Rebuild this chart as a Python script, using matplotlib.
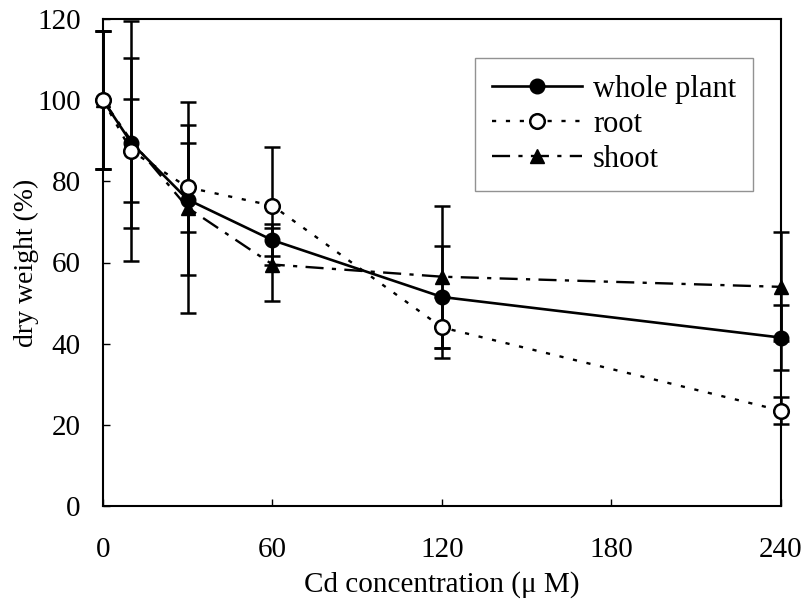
import matplotlib
matplotlib.use("Agg")
import matplotlib.pyplot as plt

plt.rcParams['font.family'] = ['Liberation Serif', 'DejaVu Serif']
plt.rcParams['lines.scale_dashes'] = False

# data
conc = [0, 10, 30, 60, 120, 240]
whole = [100, 89.5, 75.5, 65.5, 51.5, 41.5]
whole_err = [17, 21, 18.5, 4, 12.5, 8]
root = [100, 87.5, 78.5, 74, 44, 23.5]
root_err = [17, 12.7, 11, 14.5, 7.5, 3.3]
shoot = [100, 90, 73.5, 59.5, 56.5, 54]
shoot_err = [17, 29.6, 26, 9, 17.5, 13.4]

xticks = [0, 60, 120, 180, 240]
yticks = [0, 20, 40, 60, 80, 100, 120]

fig = plt.figure(figsize=(8.04, 6.07), dpi=100)
ax = fig.add_axes([103/804, 1-506/607, 678/804, 487/607])

for y, e in ((whole, whole_err), (root, root_err), (shoot, shoot_err)):
    eb = ax.errorbar(conc, y, yerr=e, fmt='none', ecolor='black',
                     elinewidth=1.8, capsize=5.5, capthick=1.8, clip_on=False)
    for art in list(eb.lines[1]) + list(eb.lines[2]):
        art.set_clip_on(False)

ax.plot(conc, whole, color='black', lw=1.9, ls='-', marker='o', ms=10.5,
        mfc='black', mec='black', label='whole plant', clip_on=False, zorder=4)
ax.plot(conc, root, color='black', lw=1.7, ls=(0, (3, 7)), marker='o', ms=10.5,
        mfc='white', mec='black', mew=1.8, label='root', clip_on=False, zorder=5)
ax.plot(conc, shoot, color='black', lw=1.7, ls=(0, (13, 6, 3, 6)), marker='^', ms=10.5,
        mfc='black', mec='black', label='shoot', clip_on=False, zorder=4)

ax.set_xlim(0, 240)
ax.set_ylim(0, 120)
ax.set_xticks(xticks)
ax.set_yticks(yticks)
ax.tick_params(axis='x', direction='in', length=5, width=1, labelsize=21, pad=22)
ax.tick_params(axis='y', direction='in', length=5, width=1, labelsize=21, pad=16)
for s in ax.spines.values():
    s.set_linewidth(1.5)

ax.set_xlabel('Cd concentration (\u03bc M)', fontsize=21, labelpad=6)
ax.set_ylabel('dry weight (%)', fontsize=20, labelpad=-1)

leg = ax.legend(loc='upper right', bbox_to_anchor=(650/678, 448/487),
                borderaxespad=0, fontsize=22, frameon=True, fancybox=False,
                edgecolor='#777777', handlelength=2.95, handletextpad=0.35,
                labelspacing=0.2, borderpad=0.55)
leg.get_frame().set_linewidth(1.0)

fig.savefig('out.png', dpi=100)
